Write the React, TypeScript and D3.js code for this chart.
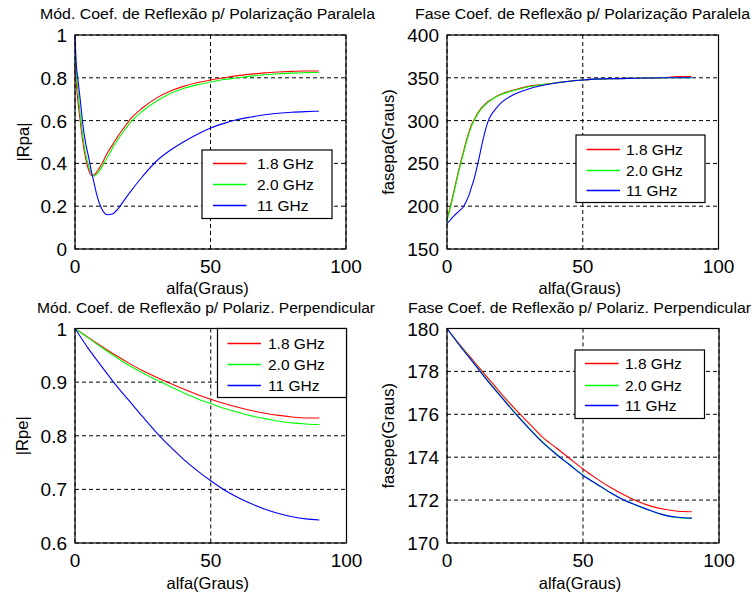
import React from "react";
import * as d3 from "d3";

// ---------- DATA ----------
const seriesNames = ["1.8 GHz", "2.0 GHz", "11 GHz"];
const seriesColors = ["#ff0000", "#00ff00", "#0000ff"];

// Panel 1: |Rpa|
const xRpa = [0, 0.5, 1, 2, 3, 4, 5, 6, 7, 8, 10, 12, 14, 16, 18, 20, 25, 30, 35, 40, 45, 50, 55, 60, 65, 70, 75, 80, 85, 90];
const rpa18 = [0.86, 0.77, 0.70, 0.59, 0.49, 0.42, 0.37, 0.345, 0.345, 0.36, 0.40, 0.45, 0.49, 0.53, 0.565, 0.60, 0.66, 0.705, 0.737, 0.76, 0.777, 0.79, 0.80, 0.81, 0.817, 0.823, 0.827, 0.83, 0.832, 0.832];
const rpa20 = [0.90, 0.82, 0.75, 0.62, 0.52, 0.44, 0.39, 0.355, 0.34, 0.35, 0.385, 0.43, 0.475, 0.515, 0.55, 0.585, 0.645, 0.69, 0.725, 0.75, 0.767, 0.78, 0.792, 0.80, 0.808, 0.814, 0.819, 0.822, 0.824, 0.825];
const rpa11 = [1.0, 0.86, 0.80, 0.69, 0.57, 0.49, 0.43, 0.365, 0.31, 0.255, 0.185, 0.16, 0.165, 0.19, 0.225, 0.26, 0.34, 0.41, 0.46, 0.50, 0.535, 0.565, 0.587, 0.605, 0.617, 0.627, 0.634, 0.639, 0.642, 0.644];

// Panel 2: fasepa
const xFpa = [0, 1, 2, 3, 4, 5, 6, 7, 8, 9, 10, 11, 12, 13, 14, 15, 16, 18, 20, 25, 30, 35, 40, 45, 50, 60, 70, 80, 85, 90];
const fpa18 = [185, 197, 210, 224, 238, 251, 263, 275, 286, 295, 301, 307, 312, 316, 319, 322, 324, 328, 331, 336, 340, 342, 344, 346, 347.5, 349, 349.5, 350, 351.5, 351.5];
const fpa20 = [183, 195, 208, 222, 236, 249, 261, 273, 284, 293, 300, 306, 311, 315, 318, 321, 323.5, 327.5, 330.5, 335.5, 339.5, 342, 344, 346, 347.5, 349, 349.5, 350, 350, 350];
const fpa11 = [180, 183, 187, 190, 193, 196, 199, 205, 212, 222, 232, 245, 259, 274, 287, 298, 305, 314, 321, 331, 337, 341, 344, 346, 347.5, 349, 349.5, 350, 350, 350];

// Panel 3: |Rpe|
const xRpe = [0, 5, 10, 15, 20, 25, 30, 35, 40, 45, 50, 55, 60, 65, 70, 75, 80, 85, 90];
const rpe18 = [1.0, 0.983, 0.966, 0.95, 0.935, 0.921, 0.909, 0.898, 0.887, 0.877, 0.868, 0.86, 0.853, 0.847, 0.842, 0.838, 0.835, 0.833, 0.833];
const rpe20 = [1.0, 0.982, 0.964, 0.947, 0.931, 0.917, 0.904, 0.892, 0.88, 0.869, 0.86, 0.851, 0.844, 0.837, 0.832, 0.827, 0.824, 0.822, 0.821];
const rpe11 = [1.0, 0.962, 0.928, 0.895, 0.865, 0.835, 0.806, 0.78, 0.756, 0.735, 0.716, 0.699, 0.685, 0.673, 0.663, 0.655, 0.649, 0.645, 0.643];

// Panel 4: fasepe
const xFpe = [0, 5, 10, 15, 20, 25, 30, 35, 40, 45, 50, 55, 60, 65, 70, 75, 80, 85, 90];
const fpe18 = [180, 179.2, 178.45, 177.7, 176.95, 176.25, 175.6, 174.95, 174.45, 173.95, 173.45, 173.0, 172.6, 172.25, 171.95, 171.72, 171.57, 171.48, 171.46];
const fpe20 = [180, 179.17, 178.38, 177.58, 176.83, 176.09, 175.38, 174.74, 174.18, 173.67, 173.17, 172.75, 172.35, 172.0, 171.73, 171.5, 171.3, 171.18, 171.15];
const fpe11 = [180, 179.15, 178.35, 177.55, 176.8, 176.05, 175.35, 174.7, 174.15, 173.65, 173.15, 172.75, 172.35, 172.0, 171.75, 171.5, 171.3, 171.2, 171.16];

const xTicks = [0, 50, 100];
const yTicksRpa = [0, 0.2, 0.4, 0.6, 0.8, 1];
const yTicksFpa = [150, 200, 250, 300, 350, 400];
const yTicksRpe = [0.6, 0.7, 0.8, 0.9, 1];
const yTicksFpe = [170, 172, 174, 176, 178, 180];

const titles = [
  "Mód. Coef. de Reflexão p/ Polarização Paralela",
  "Fase Coef. de Reflexão p/ Polarização Paralela",
  "Mód. Coef. de Reflexão p/ Polariz. Perpendicular",
  "Fase Coef. de Reflexão p/ Polariz. Perpendicular",
];
const yLabels = ["|Rpa|", "fasepa(Graus)", "|Rpe|", "fasepe(Graus)"];
const xLabel = "alfa(Graus)";

// ---------- LAYOUT ----------
const FONT = "'Liberation Sans', Arial, Helvetica, sans-serif";

type Panel = {
  x0: number; x1: number; y0: number; y1: number;
  yDomain: [number, number]; yTicks: number[];
  xs: number[]; ys: number[][];
  title: string; titleX0: number; titleX1: number; titleY: number;
  yLabel: string; yLabelX: number;
  xLabelY: number;
  legend: { bx0: number; by0: number; bx1: number; by1: number; lx0: number; lx1: number; tx: number; rows: number[] };
};

const panels: Panel[] = [
  {
    x0: 75, x1: 346, y0: 35, y1: 249, yDomain: [0, 1], yTicks: yTicksRpa,
    xs: xRpa, ys: [rpa18, rpa20, rpa11],
    title: titles[0], titleX0: 40, titleX1: 375, titleY: 19,
    yLabel: yLabels[0], yLabelX: 29, xLabelY: 293.5,
    legend: { bx0: 202, by0: 150, bx1: 332, by1: 218.5, lx0: 213, lx1: 246.5, tx: 257, rows: [163.5, 184.5, 205.5] },
  },
  {
    x0: 447, x1: 718.5, y0: 35, y1: 249, yDomain: [150, 400], yTicks: yTicksFpa,
    xs: xFpa, ys: [fpa18, fpa20, fpa11],
    title: titles[1], titleX0: 415, titleX1: 750, titleY: 19,
    yLabel: yLabels[1], yLabelX: 394, xLabelY: 293.5,
    legend: { bx0: 576, by0: 135, bx1: 705, by1: 202.5, lx0: 586.5, lx1: 620, tx: 626, rows: [149.5, 170.5, 190.5] },
  },
  {
    x0: 75, x1: 346.5, y0: 328.5, y1: 543, yDomain: [0.6, 1], yTicks: yTicksRpe,
    xs: xRpe, ys: [rpe18, rpe20, rpe11],
    title: titles[2], titleX0: 37, titleX1: 375, titleY: 313,
    yLabel: yLabels[2], yLabelX: 28, xLabelY: 588.5,
    legend: { bx0: 217.5, by0: 328.5, bx1: 346.5, by1: 397.5, lx0: 227.5, lx1: 261, tx: 268, rows: [343.5, 364.5, 385.5] },
  },
  {
    x0: 447, x1: 719, y0: 328.5, y1: 543, yDomain: [170, 180], yTicks: yTicksFpe,
    xs: xFpe, ys: [fpe18, fpe20, fpe11],
    title: titles[3], titleX0: 408, titleX1: 751, titleY: 313,
    yLabel: yLabels[3], yLabelX: 394, xLabelY: 588.5,
    legend: { bx0: 575, by0: 350, bx1: 704.5, by1: 418.5, lx0: 585, lx1: 618.5, tx: 625, rows: [363.5, 385.5, 405.5] },
  },
];

const fmt = (v: number) => String(Math.round(v * 1000) / 1000);

function PanelView({ p }: { p: Panel }) {
  const xs = d3.scaleLinear().domain([0, 100]).range([p.x0, p.x1]);
  const ys = d3.scaleLinear().domain(p.yDomain).range([p.y1, p.y0]);
  const line = d3
    .line<[number, number]>()
    .x((d) => xs(d[0]))
    .y((d) => ys(d[1]))
    .curve(d3.curveMonotoneX);
  const L = p.legend;
  return (
    <g>
      <text x={p.titleX0} y={p.titleY} fontSize={14} fontFamily={FONT} fill="#000"
        textLength={p.titleX1 - p.titleX0} lengthAdjust="spacingAndGlyphs">{p.title}</text>
      {p.yTicks.map((t) => (
        <line key={"gy" + t} x1={p.x0} x2={p.x1} y1={ys(t)} y2={ys(t)} stroke="#000" strokeWidth={1} strokeDasharray="4,3" />
      ))}
      {xTicks.map((t) => (
        <line key={"gx" + t} x1={xs(t)} x2={xs(t)} y1={p.y0} y2={p.y1} stroke="#000" strokeWidth={1} strokeDasharray="4,3" />
      ))}
      {p.ys.map((arr, i) => (
        <path key={"s" + i} d={line(p.xs.map((x, j) => [x, arr[j]] as [number, number])) || ""}
          fill="none" stroke={seriesColors[i]} strokeWidth={1.1} />
      ))}
      <rect x={p.x0} y={p.y0} width={p.x1 - p.x0} height={p.y1 - p.y0} fill="none" stroke="#000" strokeWidth={1.2} />
      {p.yTicks.map((t) => (
        <text key={"ty" + t} x={p.x0 - 8} y={ys(t) + 7} textAnchor="end" fontSize={19} fontFamily={FONT} fill="#000">{fmt(t)}</text>
      ))}
      {xTicks.map((t) => (
        <text key={"tx" + t} x={xs(t)} y={p.y1 + 23.5} textAnchor="middle" fontSize={19} fontFamily={FONT} fill="#000">{fmt(t)}</text>
      ))}
      <text x={(p.x0 + p.x1) / 2 - 3} y={p.xLabelY} textAnchor="middle" fontSize={16.5} fontFamily={FONT} fill="#000">{xLabel}</text>
      <text transform={`translate(${p.yLabelX},${(p.y0 + p.y1) / 2}) rotate(-90)`} textAnchor="middle" fontSize={16.5} fontFamily={FONT} fill="#000">{p.yLabel}</text>
      <rect x={L.bx0} y={L.by0} width={L.bx1 - L.bx0} height={L.by1 - L.by0} fill="#fff" stroke="#000" strokeWidth={1.2} />
      {seriesNames.map((n, i) => (
        <g key={"l" + i}>
          <line x1={L.lx0} x2={L.lx1} y1={L.rows[i]} y2={L.rows[i]} stroke={seriesColors[i]} strokeWidth={1.3} />
          <text x={L.tx} y={L.rows[i] + 5.5} fontSize={15.5} fontFamily={FONT} fill="#000">{n}</text>
        </g>
      ))}
    </g>
  );
}

export default function App() {
  return (
    <svg width={755} height={597} style={{ position: "absolute", left: 0, top: 0, background: "#fff" }}>
      <rect x={0} y={0} width={755} height={597} fill="#fff" />
      {panels.map((p, i) => (
        <PanelView key={i} p={p} />
      ))}
    </svg>
  );
}
